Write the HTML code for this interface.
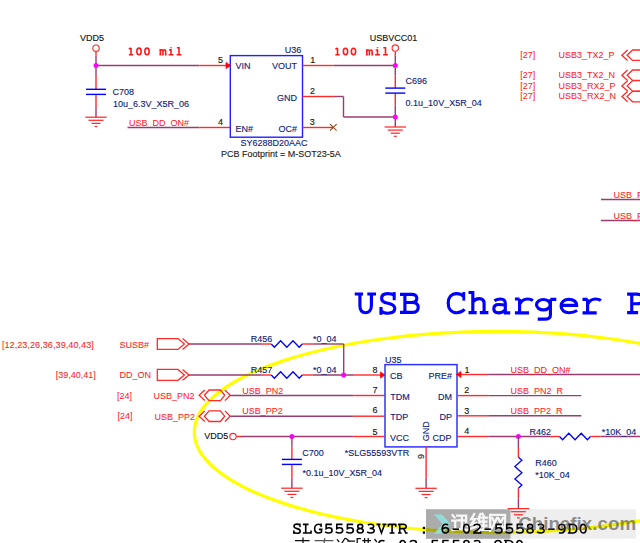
<!DOCTYPE html>
<html><head><meta charset="utf-8"><style>
html,body{margin:0;padding:0;background:#fff;overflow:hidden;}
svg{display:block;}
</style></head><body>
<svg width="640" height="543" viewBox="0 0 640 543">
<ellipse cx="496.9" cy="432" rx="302.6" ry="100.6" fill="none" stroke="#ffff00" stroke-width="3.2"/>
<rect x="426" y="509.2" width="84.5" height="29.6" fill="#000" fill-opacity="0.33"/>
<rect x="510.5" y="509.2" width="125.5" height="29.6" fill="#000" fill-opacity="0.065"/>
<polygon points="434,514.4 442,514.4 450.5,524 442,533.8 434,533.8 442.5,524" fill="#8fe0dc" fill-opacity="0.9"/>
<text x="80" y="41" fill="#101010" stroke="#101010" stroke-width="0.12" font-size="9" style="font-family:&quot;Liberation Sans&quot;, sans-serif" font-weight="normal" text-anchor="start" >VDD5</text>
<circle cx="96" cy="48.2" r="3.2" fill="#fff" stroke="#ff2a2a" stroke-width="1.1"/>
<line x1="96" y1="51.4" x2="96" y2="55.5" stroke="#ff2a2a" stroke-width="1.4"/>
<line x1="96" y1="55.5" x2="96" y2="76" stroke="#9a3d6e" stroke-width="1.4"/>
<line x1="96" y1="76" x2="96" y2="89.3" stroke="#ff2a2a" stroke-width="1.4"/>
<line x1="96" y1="94.4" x2="96" y2="107" stroke="#ff2a2a" stroke-width="1.4"/>
<line x1="96" y1="107" x2="96" y2="117.2" stroke="#9a3d6e" stroke-width="1.4"/>
<line x1="96" y1="65.5" x2="199.5" y2="65.5" stroke="#9a3d6e" stroke-width="1.4"/>
<line x1="199.5" y1="65.5" x2="230" y2="65.5" stroke="#ff2a2a" stroke-width="1.4"/>
<polygon fill="#ff0000" stroke="#ff0000" stroke-width="0.7" points="226.0,62.4 230.6,65.5 226.0,68.6"/>
<circle cx="96" cy="65.5" r="2.5" fill="#ff00ff"/>
<line x1="86" y1="89.3" x2="106" y2="89.3" stroke="#0000ff" stroke-width="1.4"/>
<line x1="86" y1="94.4" x2="106" y2="94.4" stroke="#0000ff" stroke-width="1.4"/>
<line x1="85.3" y1="117.2" x2="106.7" y2="117.2" stroke="#ff2a2a" stroke-width="1.25"/>
<line x1="88.5" y1="120.3" x2="103.5" y2="120.3" stroke="#ff2a2a" stroke-width="1.25"/>
<line x1="91.5" y1="123.4" x2="100.5" y2="123.4" stroke="#ff2a2a" stroke-width="1.25"/>
<line x1="94.6" y1="126.5" x2="97.4" y2="126.5" stroke="#ff2a2a" stroke-width="1.25"/>
<g transform="translate(0 55.3) scale(0.13330 0.13330)"><g fill="none" stroke="#ff1a1a" stroke-width="12.003"><path transform="translate(952.738 0)" d="M30,-55 L30,-4.5 M14,-4.5 L46,-4.5 M30,-55 L14,-47"/><path transform="translate(1012.753 0)" d="M30,-53.5 C41,-53.5 46,-42 46,-29 C46,-16 41,-4.5 30,-4.5 C19,-4.5 14,-16 14,-29 C14,-42 19,-53.5 30,-53.5 Z"/><path transform="translate(1072.768 0)" d="M30,-53.5 C41,-53.5 46,-42 46,-29 C46,-16 41,-4.5 30,-4.5 C19,-4.5 14,-16 14,-29 C14,-42 19,-53.5 30,-53.5 Z"/><path transform="translate(1192.798 0)" d="M3,-41 L10,-41 L10,-4.5 M3,-4.5 L17,-4.5 M10,-33 C12,-38 16,-41 20.5,-41 C26,-41 29.5,-38 29.5,-32 L29.5,-4.5 M23,-4.5 L35,-4.5 M29.5,-33 C31.5,-38 35,-41 39.5,-41 C46,-41 50,-38 50,-32 L50,-4.5 M44,-4.5 L57,-4.5"/><path transform="translate(1252.813 0)" d="M16,-41 L30,-41 L30,-4.5 M12,-4.5 L48,-4.5 M30,-61 L30,-53"/><path transform="translate(1312.828 0)" d="M14,-57 L30,-57 L30,-4.5 M12,-4.5 L48,-4.5"/></g></g>
<text x="112.5" y="95" fill="#0c1a7a" stroke="#0c1a7a" stroke-width="0.12" font-size="9" style="font-family:&quot;Liberation Sans&quot;, sans-serif" font-weight="normal" text-anchor="start" >C708</text>
<text x="113" y="107" fill="#0c1a7a" stroke="#0c1a7a" stroke-width="0.12" font-size="9" style="font-family:&quot;Liberation Sans&quot;, sans-serif" font-weight="normal" text-anchor="start" >10u_6.3V_X5R_06</text>
<line x1="127.5" y1="127.5" x2="199.5" y2="127.5" stroke="#9a3d6e" stroke-width="1.4"/>
<line x1="199.5" y1="127.5" x2="230" y2="127.5" stroke="#ff2a2a" stroke-width="1.4"/>
<text x="129" y="126" fill="#ff1a1a" stroke="#ff1a1a" stroke-width="0.05" font-size="9" style="font-family:&quot;Liberation Sans&quot;, sans-serif" font-weight="normal" text-anchor="start" >USB_DD_ON#</text>
<rect x="230.3" y="55.6" width="72.2" height="81.6" fill="none" stroke="#2020ff" stroke-width="1.4"/>
<text x="301.3" y="53.1" fill="#0c1a7a" stroke="#0c1a7a" stroke-width="0.12" font-size="9" style="font-family:&quot;Liberation Sans&quot;, sans-serif" font-weight="normal" text-anchor="end" >U36</text>
<text x="235.5" y="69.4" fill="#0c1a7a" stroke="#0c1a7a" stroke-width="0.12" font-size="9" style="font-family:&quot;Liberation Sans&quot;, sans-serif" font-weight="normal" text-anchor="start" >VIN</text>
<text x="297" y="69.4" fill="#0c1a7a" stroke="#0c1a7a" stroke-width="0.12" font-size="9" style="font-family:&quot;Liberation Sans&quot;, sans-serif" font-weight="normal" text-anchor="end" >VOUT</text>
<text x="297" y="100.5" fill="#0c1a7a" stroke="#0c1a7a" stroke-width="0.12" font-size="9" style="font-family:&quot;Liberation Sans&quot;, sans-serif" font-weight="normal" text-anchor="end" >GND</text>
<text x="235.5" y="131.7" fill="#0c1a7a" stroke="#0c1a7a" stroke-width="0.12" font-size="9" style="font-family:&quot;Liberation Sans&quot;, sans-serif" font-weight="normal" text-anchor="start" >EN#</text>
<text x="297" y="131.7" fill="#0c1a7a" stroke="#0c1a7a" stroke-width="0.12" font-size="9" style="font-family:&quot;Liberation Sans&quot;, sans-serif" font-weight="normal" text-anchor="end" >OC#</text>
<text x="218" y="63" fill="#101010" stroke="#101010" stroke-width="0.12" font-size="9" style="font-family:&quot;Liberation Sans&quot;, sans-serif" font-weight="normal" text-anchor="start" >5</text>
<text x="218" y="125" fill="#101010" stroke="#101010" stroke-width="0.12" font-size="9" style="font-family:&quot;Liberation Sans&quot;, sans-serif" font-weight="normal" text-anchor="start" >4</text>
<text x="310.3" y="63" fill="#101010" stroke="#101010" stroke-width="0.12" font-size="9" style="font-family:&quot;Liberation Sans&quot;, sans-serif" font-weight="normal" text-anchor="start" >1</text>
<text x="310" y="94" fill="#101010" stroke="#101010" stroke-width="0.12" font-size="9" style="font-family:&quot;Liberation Sans&quot;, sans-serif" font-weight="normal" text-anchor="start" >2</text>
<text x="309.7" y="124.7" fill="#101010" stroke="#101010" stroke-width="0.12" font-size="9" style="font-family:&quot;Liberation Sans&quot;, sans-serif" font-weight="normal" text-anchor="start" >3</text>
<text x="240.5" y="146" fill="#0c1a7a" stroke="#0c1a7a" stroke-width="0.12" font-size="9" style="font-family:&quot;Liberation Sans&quot;, sans-serif" font-weight="normal" text-anchor="start" >SY6288D20AAC</text>
<text x="221" y="157" fill="#202020" stroke="#202020" stroke-width="0.12" font-size="9" style="font-family:&quot;Liberation Sans&quot;, sans-serif" font-weight="normal" text-anchor="start" >PCB Footprint = M-SOT23-5A</text>
<line x1="302.5" y1="65.5" x2="333.7" y2="65.5" stroke="#ff2a2a" stroke-width="1.4"/>
<line x1="333.7" y1="65.5" x2="395.3" y2="65.5" stroke="#9a3d6e" stroke-width="1.4"/>
<line x1="302.5" y1="96.5" x2="333.7" y2="96.5" stroke="#ff2a2a" stroke-width="1.4"/>
<line x1="333.7" y1="96.5" x2="343.5" y2="96.5" stroke="#9a3d6e" stroke-width="1.4"/>
<line x1="343.5" y1="96.5" x2="343.5" y2="117" stroke="#9a3d6e" stroke-width="1.4"/>
<line x1="343.5" y1="117" x2="395.3" y2="117" stroke="#9a3d6e" stroke-width="1.4"/>
<line x1="302.5" y1="127.5" x2="333" y2="127.5" stroke="#ff2a2a" stroke-width="1.4"/>
<line x1="330" y1="124.2" x2="336.6" y2="130.7" stroke="#8a4a1a" stroke-width="1.1"/>
<line x1="336.6" y1="124.2" x2="330" y2="130.7" stroke="#8a4a1a" stroke-width="1.1"/>
<g transform="translate(0 55.4) scale(0.13330 0.13330)"><g fill="none" stroke="#ff1a1a" stroke-width="12.003"><path transform="translate(2501.875 0)" d="M30,-55 L30,-4.5 M14,-4.5 L46,-4.5 M30,-55 L14,-47"/><path transform="translate(2561.890 0)" d="M30,-53.5 C41,-53.5 46,-42 46,-29 C46,-16 41,-4.5 30,-4.5 C19,-4.5 14,-16 14,-29 C14,-42 19,-53.5 30,-53.5 Z"/><path transform="translate(2621.905 0)" d="M30,-53.5 C41,-53.5 46,-42 46,-29 C46,-16 41,-4.5 30,-4.5 C19,-4.5 14,-16 14,-29 C14,-42 19,-53.5 30,-53.5 Z"/><path transform="translate(2741.935 0)" d="M3,-41 L10,-41 L10,-4.5 M3,-4.5 L17,-4.5 M10,-33 C12,-38 16,-41 20.5,-41 C26,-41 29.5,-38 29.5,-32 L29.5,-4.5 M23,-4.5 L35,-4.5 M29.5,-33 C31.5,-38 35,-41 39.5,-41 C46,-41 50,-38 50,-32 L50,-4.5 M44,-4.5 L57,-4.5"/><path transform="translate(2801.950 0)" d="M16,-41 L30,-41 L30,-4.5 M12,-4.5 L48,-4.5 M30,-61 L30,-53"/><path transform="translate(2861.965 0)" d="M14,-57 L30,-57 L30,-4.5 M12,-4.5 L48,-4.5"/></g></g>
<text x="369.7" y="40.6" fill="#101010" stroke="#101010" stroke-width="0.12" font-size="9" style="font-family:&quot;Liberation Sans&quot;, sans-serif" font-weight="normal" text-anchor="start" >USBVCC01</text>
<circle cx="395.3" cy="48.1" r="3.2" fill="#fff" stroke="#ff2a2a" stroke-width="1.1"/>
<line x1="395.3" y1="51.4" x2="395.3" y2="55.6" stroke="#ff2a2a" stroke-width="1.4"/>
<line x1="395.3" y1="55.6" x2="395.3" y2="75.6" stroke="#9a3d6e" stroke-width="1.4"/>
<line x1="395.3" y1="75.6" x2="395.3" y2="88.1" stroke="#ff2a2a" stroke-width="1.4"/>
<line x1="395.3" y1="93" x2="395.3" y2="105.5" stroke="#ff2a2a" stroke-width="1.4"/>
<line x1="395.3" y1="105.5" x2="395.3" y2="127" stroke="#9a3d6e" stroke-width="1.4"/>
<circle cx="395.3" cy="65.5" r="2.5" fill="#ff00ff"/>
<circle cx="395.3" cy="117" r="2.5" fill="#ff00ff"/>
<line x1="385.3" y1="88.1" x2="405.3" y2="88.1" stroke="#0000ff" stroke-width="1.4"/>
<line x1="385.3" y1="93.1" x2="405.3" y2="93.1" stroke="#0000ff" stroke-width="1.4"/>
<line x1="384.6" y1="127" x2="406.0" y2="127" stroke="#ff2a2a" stroke-width="1.25"/>
<line x1="387.8" y1="130.1" x2="402.8" y2="130.1" stroke="#ff2a2a" stroke-width="1.25"/>
<line x1="390.8" y1="133.2" x2="399.8" y2="133.2" stroke="#ff2a2a" stroke-width="1.25"/>
<line x1="393.90000000000003" y1="136.3" x2="396.7" y2="136.3" stroke="#ff2a2a" stroke-width="1.25"/>
<text x="405.5" y="83.8" fill="#0c1a7a" stroke="#0c1a7a" stroke-width="0.12" font-size="9" style="font-family:&quot;Liberation Sans&quot;, sans-serif" font-weight="normal" text-anchor="start" >C696</text>
<text x="405.6" y="105.8" fill="#0c1a7a" stroke="#0c1a7a" stroke-width="0.12" font-size="9" style="font-family:&quot;Liberation Sans&quot;, sans-serif" font-weight="normal" text-anchor="start" >0.1u_10V_X5R_04</text>
<text x="520.3" y="58.1" fill="#ff1a1a" stroke="#ff1a1a" stroke-width="0.05" font-size="9" style="font-family:&quot;Liberation Sans&quot;, sans-serif" font-weight="normal" text-anchor="start" >[27]</text>
<text x="558.6" y="58.1" fill="#ff1a1a" stroke="#ff1a1a" stroke-width="0.05" font-size="9" style="font-family:&quot;Liberation Sans&quot;, sans-serif" font-weight="normal" text-anchor="start" >USB3_TX2_P</text>
<text x="520.3" y="78.1" fill="#ff1a1a" stroke="#ff1a1a" stroke-width="0.05" font-size="9" style="font-family:&quot;Liberation Sans&quot;, sans-serif" font-weight="normal" text-anchor="start" >[27]</text>
<text x="558.6" y="78.1" fill="#ff1a1a" stroke="#ff1a1a" stroke-width="0.05" font-size="9" style="font-family:&quot;Liberation Sans&quot;, sans-serif" font-weight="normal" text-anchor="start" >USB3_TX2_N</text>
<text x="520.3" y="88.6" fill="#ff1a1a" stroke="#ff1a1a" stroke-width="0.05" font-size="9" style="font-family:&quot;Liberation Sans&quot;, sans-serif" font-weight="normal" text-anchor="start" >[27]</text>
<text x="558.6" y="88.6" fill="#ff1a1a" stroke="#ff1a1a" stroke-width="0.05" font-size="9" style="font-family:&quot;Liberation Sans&quot;, sans-serif" font-weight="normal" text-anchor="start" >USB3_RX2_P</text>
<text x="520.3" y="98.9" fill="#ff1a1a" stroke="#ff1a1a" stroke-width="0.05" font-size="9" style="font-family:&quot;Liberation Sans&quot;, sans-serif" font-weight="normal" text-anchor="start" >[27]</text>
<text x="558.6" y="98.9" fill="#ff1a1a" stroke="#ff1a1a" stroke-width="0.05" font-size="9" style="font-family:&quot;Liberation Sans&quot;, sans-serif" font-weight="normal" text-anchor="start" >USB3_RX2_N</text>
<polyline fill="none" stroke="#ff2a2a" stroke-width="1.3" points="627.6,50.0 621.9,55.2 627.6,60.400000000000006"/>
<polyline fill="none" stroke="#ff2a2a" stroke-width="1.3" points="645,50.0 632.6,50.0 627.1,55.2 632.6,60.400000000000006 645,60.400000000000006"/>
<polyline fill="none" stroke="#ff2a2a" stroke-width="1.3" points="627.6,70.0 621.9,75.2 627.6,80.4"/>
<polyline fill="none" stroke="#ff2a2a" stroke-width="1.3" points="645,70.0 632.6,70.0 627.1,75.2 632.6,80.4 645,80.4"/>
<polyline fill="none" stroke="#ff2a2a" stroke-width="1.3" points="627.6,80.7 621.9,85.9 627.6,91.10000000000001"/>
<polyline fill="none" stroke="#ff2a2a" stroke-width="1.3" points="645,80.7 632.6,80.7 627.1,85.9 632.6,91.10000000000001 645,91.10000000000001"/>
<polyline fill="none" stroke="#ff2a2a" stroke-width="1.3" points="627.6,91.39999999999999 621.9,96.6 627.6,101.8"/>
<polyline fill="none" stroke="#ff2a2a" stroke-width="1.3" points="645,91.39999999999999 632.6,91.39999999999999 627.1,96.6 632.6,101.8 645,101.8"/>
<line x1="601" y1="199.5" x2="641" y2="199.5" stroke="#9a3d6e" stroke-width="1.4"/>
<line x1="601" y1="220.5" x2="641" y2="220.5" stroke="#9a3d6e" stroke-width="1.4"/>
<text x="613.5" y="197.8" fill="#ff1a1a" stroke="#ff1a1a" stroke-width="0.05" font-size="9" style="font-family:&quot;Liberation Sans&quot;, sans-serif" font-weight="normal" text-anchor="start" >USB_PN</text>
<text x="613.5" y="218.8" fill="#ff1a1a" stroke="#ff1a1a" stroke-width="0.05" font-size="9" style="font-family:&quot;Liberation Sans&quot;, sans-serif" font-weight="normal" text-anchor="start" >USB_PP</text>
<path d="M354.7,293.95 L363,293.95 M367.3,293.95 L376,293.95 M359.9,293.9 L359.9,305.5 C359.9,310.5 362.5,312.7 365.6,312.7 C368.7,312.7 371.4,310.5 371.4,305.5 L371.4,293.9 M394.2,295.2 C392.3,294 390,293.6 387.8,293.6 C383.6,293.6 381.6,295.8 381.6,298.4 C381.6,301.4 384.4,302.5 388,303.3 C392.6,304.3 394.8,305.7 394.8,308.6 C394.8,311.6 392,313.2 388,313.2 C385,313.2 382.8,312.5 381,310.8 M400,294.3 L411.5,294.3 C415,294.3 416.8,296 416.8,298.3 C416.8,300.8 414.8,302.5 411.5,302.5 L404.9,302.5 M404.9,294.3 L404.9,312.4 M404.9,302.5 L412,302.5 C416,302.5 418.2,304.5 418.2,307.4 C418.2,310.4 416,312.4 412,312.4 L400,312.4 M463.8,296.6 C462,294.3 459.2,293.6 456.6,293.6 C451.2,293.6 448.2,297.8 448.2,303.2 C448.2,309 451.6,312.7 456.8,312.7 C460,312.7 462.5,311.6 464.6,309.3 M468.5,292.45 L472.8,292.45 M472.8,291 L472.8,312.6 M472.8,302.2 C474.5,299.6 476.8,298.65 479.3,298.65 C482.5,298.65 484.1,300.6 484.1,303.6 L484.1,312.6 M468.5,312.6 L476.7,312.6 M479.8,312.6 L488.4,312.6 M494.4,300.8 C496.4,299.4 498.6,298.95 500.6,298.95 C503.6,298.95 505.3,300.5 505.3,303.4 L505.3,312.8 L510.2,312.8 M505.3,305.3 C503,304.7 500.6,304.5 498.6,304.5 C495.5,304.5 493.8,306.3 493.8,308.7 C493.8,311.2 495.6,312.8 498.6,312.8 C501.5,312.8 503.6,311.6 505.3,309.7 M514.9,298.95 L519.6,298.95 M519.6,298.95 L519.6,312.8 M514.9,312.85 L529,312.85 M519.6,304.2 C521.5,300.6 524.5,298.95 527.5,298.95 C529.6,298.95 531.5,299.5 532.9,300.6 M550.4,299.3 L556.3,299.3 M550.4,299.3 L550.4,315.2 C550.4,318.1 548,319.1 544.6,319.1 L537.7,319.1 M561.1,305.4 L576.6,305.4 C576.6,301.2 573.2,299.3 568.9,299.3 C564.3,299.3 561.1,302.1 561.1,306.1 C561.1,310.3 564.5,312.7 569.1,312.7 C572.1,312.7 574.6,312 577.1,310.5 M582.5,299.35 L587.6,299.35 M587.6,299.35 L587.6,312.8 M582.5,312.85 L596.7,312.85 M587.6,304.2 C589.5,300.6 592.5,298.95 595.5,298.95 C597.6,298.95 599.5,299.5 600.9,300.6 M627.1,294.15 L637,294.15 C641,294.15 643.5,296.5 643.5,299 C643.5,301.5 641,303.7 637,303.7 L631.75,303.7 M631.75,294.15 L631.75,312.6 M627.1,312.6 L638.1,312.6" fill="none" stroke="#0000ff" stroke-width="3.15"/>
<ellipse cx="543.4" cy="304.7" rx="6.9" ry="5.2" fill="none" stroke="#0000ff" stroke-width="3.15"/>
<rect x="392.7" y="292.1" width="3.0" height="8.1" fill="#0000ff"/>
<rect x="379.4" y="307" width="3.2" height="7.8" fill="#0000ff"/>
<rect x="462.4" y="292" width="2.8" height="8.6" fill="#0000ff"/>
<text x="1.9" y="347.6" fill="#ff1a1a" stroke="#ff1a1a" stroke-width="0.05" font-size="9.2" style="font-family:&quot;Liberation Sans&quot;, sans-serif" font-weight="normal" text-anchor="start" >[12,23,26,36,39,40,43]</text>
<text x="119.5" y="347.5" fill="#ff1a1a" stroke="#ff1a1a" stroke-width="0.05" font-size="9" style="font-family:&quot;Liberation Sans&quot;, sans-serif" font-weight="normal" text-anchor="start" >SUSB#</text>
<text x="55.8" y="378.2" fill="#ff1a1a" stroke="#ff1a1a" stroke-width="0.05" font-size="9" style="font-family:&quot;Liberation Sans&quot;, sans-serif" font-weight="normal" text-anchor="start" >[39,40,41]</text>
<text x="119.5" y="378.4" fill="#ff1a1a" stroke="#ff1a1a" stroke-width="0.05" font-size="9" style="font-family:&quot;Liberation Sans&quot;, sans-serif" font-weight="normal" text-anchor="start" >DD_ON</text>
<polygon fill="none" stroke="#ff2a2a" stroke-width="1.3" points="157.3,338.55 178,338.55 184.4,344 178,349.45 157.3,349.45"/>
<polyline fill="none" stroke="#ff2a2a" stroke-width="1.3" points="182.6,338.55 189,344 182.6,349.45"/>
<polygon fill="none" stroke="#ff2a2a" stroke-width="1.3" points="157.3,369.45 178,369.45 184.4,374.9 178,380.34999999999997 157.3,380.34999999999997"/>
<polyline fill="none" stroke="#ff2a2a" stroke-width="1.3" points="182.6,369.45 189,374.9 182.6,380.34999999999997"/>
<line x1="189" y1="344" x2="261" y2="344" stroke="#9a3d6e" stroke-width="1.4"/>
<line x1="261" y1="344" x2="271.3" y2="344" stroke="#ff2a2a" stroke-width="1.4"/>
<line x1="302.2" y1="344" x2="312.7" y2="344" stroke="#ff2a2a" stroke-width="1.4"/>
<line x1="312.7" y1="344" x2="343.7" y2="344" stroke="#9a3d6e" stroke-width="1.4"/>
<polyline fill="none" stroke="#0000ff" stroke-width="1.3" points="271.30,344.00 274.40,347.20 280.60,340.80 286.80,347.20 293.00,340.80 299.20,347.20 302.30,344.00"/>
<text x="250.8" y="342" fill="#0c1a7a" stroke="#0c1a7a" stroke-width="0.12" font-size="9" style="font-family:&quot;Liberation Sans&quot;, sans-serif" font-weight="normal" text-anchor="start" >R456</text>
<text x="313" y="341.5" fill="#0c1a7a" stroke="#0c1a7a" stroke-width="0.12" font-size="9" style="font-family:&quot;Liberation Sans&quot;, sans-serif" font-weight="normal" text-anchor="start" >*0_04</text>
<line x1="343.7" y1="344" x2="343.7" y2="375" stroke="#9a3d6e" stroke-width="1.4"/>
<line x1="189" y1="375" x2="261" y2="375" stroke="#9a3d6e" stroke-width="1.4"/>
<line x1="261" y1="375" x2="271.3" y2="375" stroke="#ff2a2a" stroke-width="1.4"/>
<line x1="302.2" y1="375" x2="312.7" y2="375" stroke="#ff2a2a" stroke-width="1.4"/>
<line x1="312.7" y1="375" x2="353.7" y2="375" stroke="#9a3d6e" stroke-width="1.4"/>
<line x1="353.7" y1="375" x2="384.5" y2="375" stroke="#ff2a2a" stroke-width="1.4"/>
<polyline fill="none" stroke="#0000ff" stroke-width="1.3" points="271.30,375.00 274.40,378.20 280.60,371.80 286.80,378.20 293.00,371.80 299.20,378.20 302.30,375.00"/>
<polygon fill="#ff0000" stroke="#ff0000" stroke-width="0.7" points="380.5,371.9 385.1,375 380.5,378.1"/>
<text x="250.8" y="373" fill="#0c1a7a" stroke="#0c1a7a" stroke-width="0.12" font-size="9" style="font-family:&quot;Liberation Sans&quot;, sans-serif" font-weight="normal" text-anchor="start" >R457</text>
<text x="313" y="373" fill="#0c1a7a" stroke="#0c1a7a" stroke-width="0.12" font-size="9" style="font-family:&quot;Liberation Sans&quot;, sans-serif" font-weight="normal" text-anchor="start" >*0_04</text>
<circle cx="343.7" cy="375" r="2.5" fill="#ff00ff"/>
<text x="117" y="398.9" fill="#ff1a1a" stroke="#ff1a1a" stroke-width="0.05" font-size="9" style="font-family:&quot;Liberation Sans&quot;, sans-serif" font-weight="normal" text-anchor="start" >[24]</text>
<text x="153.6" y="399.2" fill="#ff1a1a" stroke="#ff1a1a" stroke-width="0.05" font-size="9" style="font-family:&quot;Liberation Sans&quot;, sans-serif" font-weight="normal" text-anchor="start" >USB_PN2</text>
<polyline fill="none" stroke="#ff2a2a" stroke-width="1.3" points="204.8,390.0 199.1,395.3 204.8,400.6"/>
<polygon fill="none" stroke="#ff2a2a" stroke-width="1.3" points="204.4,395.3 209.1,390.0 220.4,390.0 224.7,395.3 220.4,400.6 209.1,400.6"/>
<polyline fill="none" stroke="#ff2a2a" stroke-width="1.3" points="224.9,390.0 230.2,395.3 224.9,400.6"/>
<text x="117.5" y="419.4" fill="#ff1a1a" stroke="#ff1a1a" stroke-width="0.05" font-size="9" style="font-family:&quot;Liberation Sans&quot;, sans-serif" font-weight="normal" text-anchor="start" >[24]</text>
<text x="154.6" y="419.8" fill="#ff1a1a" stroke="#ff1a1a" stroke-width="0.05" font-size="9" style="font-family:&quot;Liberation Sans&quot;, sans-serif" font-weight="normal" text-anchor="start" >USB_PP2</text>
<polyline fill="none" stroke="#ff2a2a" stroke-width="1.3" points="204.8,410.9 199.1,416.2 204.8,421.5"/>
<polygon fill="none" stroke="#ff2a2a" stroke-width="1.3" points="204.4,416.2 209.1,410.9 220.4,410.9 224.7,416.2 220.4,421.5 209.1,421.5"/>
<polyline fill="none" stroke="#ff2a2a" stroke-width="1.3" points="224.9,410.9 230.2,416.2 224.9,421.5"/>
<line x1="230.2" y1="395.5" x2="353.7" y2="395.5" stroke="#9a3d6e" stroke-width="1.4"/>
<line x1="353.7" y1="395.5" x2="384.5" y2="395.5" stroke="#ff2a2a" stroke-width="1.4"/>
<text x="242.3" y="394.2" fill="#ff1a1a" stroke="#ff1a1a" stroke-width="0.05" font-size="9" style="font-family:&quot;Liberation Sans&quot;, sans-serif" font-weight="normal" text-anchor="start" >USB_PN2</text>
<line x1="230.2" y1="416.2" x2="353.7" y2="416.2" stroke="#9a3d6e" stroke-width="1.4"/>
<line x1="353.7" y1="416.2" x2="384.5" y2="416.2" stroke="#ff2a2a" stroke-width="1.4"/>
<text x="242.3" y="414.3" fill="#ff1a1a" stroke="#ff1a1a" stroke-width="0.05" font-size="9" style="font-family:&quot;Liberation Sans&quot;, sans-serif" font-weight="normal" text-anchor="start" >USB_PP2</text>
<text x="204.2" y="439" fill="#101010" stroke="#101010" stroke-width="0.12" font-size="9" style="font-family:&quot;Liberation Sans&quot;, sans-serif" font-weight="normal" text-anchor="start" >VDD5</text>
<circle cx="233" cy="436.6" r="3.2" fill="#fff" stroke="#ff2a2a" stroke-width="1.1"/>
<line x1="236.3" y1="436.5" x2="241" y2="436.5" stroke="#ff2a2a" stroke-width="1.4"/>
<line x1="241" y1="436.5" x2="353.7" y2="436.5" stroke="#9a3d6e" stroke-width="1.4"/>
<line x1="353.7" y1="436.5" x2="384.5" y2="436.5" stroke="#ff2a2a" stroke-width="1.4"/>
<circle cx="291.9" cy="436.5" r="2.5" fill="#ff00ff"/>
<line x1="291.9" y1="436.5" x2="291.9" y2="446.7" stroke="#9a3d6e" stroke-width="1.4"/>
<line x1="291.9" y1="446.7" x2="291.9" y2="459.4" stroke="#ff2a2a" stroke-width="1.4"/>
<line x1="291.9" y1="464.4" x2="291.9" y2="477.7" stroke="#ff2a2a" stroke-width="1.4"/>
<line x1="291.9" y1="477.7" x2="291.9" y2="488.2" stroke="#9a3d6e" stroke-width="1.4"/>
<line x1="281.9" y1="459.4" x2="301.9" y2="459.4" stroke="#0000ff" stroke-width="1.4"/>
<line x1="281.9" y1="464.4" x2="301.9" y2="464.4" stroke="#0000ff" stroke-width="1.4"/>
<line x1="281.2" y1="488.2" x2="302.59999999999997" y2="488.2" stroke="#ff2a2a" stroke-width="1.25"/>
<line x1="284.4" y1="491.3" x2="299.4" y2="491.3" stroke="#ff2a2a" stroke-width="1.25"/>
<line x1="287.4" y1="494.4" x2="296.4" y2="494.4" stroke="#ff2a2a" stroke-width="1.25"/>
<line x1="290.5" y1="497.5" x2="293.29999999999995" y2="497.5" stroke="#ff2a2a" stroke-width="1.25"/>
<text x="302.3" y="455.8" fill="#0c1a7a" stroke="#0c1a7a" stroke-width="0.12" font-size="9" style="font-family:&quot;Liberation Sans&quot;, sans-serif" font-weight="normal" text-anchor="start" >C700</text>
<text x="302.5" y="475.8" fill="#0c1a7a" stroke="#0c1a7a" stroke-width="0.12" font-size="9" style="font-family:&quot;Liberation Sans&quot;, sans-serif" font-weight="normal" text-anchor="start" >*0.1u_10V_X5R_04</text>
<rect x="385" y="364.6" width="72" height="82.3" fill="none" stroke="#3030ff" stroke-width="1.5"/>
<text x="385" y="362.9" fill="#0c1a7a" stroke="#0c1a7a" stroke-width="0.12" font-size="9" style="font-family:&quot;Liberation Sans&quot;, sans-serif" font-weight="normal" text-anchor="start" >U35</text>
<text x="390" y="379" fill="#0c1a7a" stroke="#0c1a7a" stroke-width="0.12" font-size="9" style="font-family:&quot;Liberation Sans&quot;, sans-serif" font-weight="normal" text-anchor="start" >CB</text>
<text x="390.2" y="399.8" fill="#0c1a7a" stroke="#0c1a7a" stroke-width="0.12" font-size="9" style="font-family:&quot;Liberation Sans&quot;, sans-serif" font-weight="normal" text-anchor="start" >TDM</text>
<text x="390.2" y="420.2" fill="#0c1a7a" stroke="#0c1a7a" stroke-width="0.12" font-size="9" style="font-family:&quot;Liberation Sans&quot;, sans-serif" font-weight="normal" text-anchor="start" >TDP</text>
<text x="390" y="441" fill="#0c1a7a" stroke="#0c1a7a" stroke-width="0.12" font-size="9" style="font-family:&quot;Liberation Sans&quot;, sans-serif" font-weight="normal" text-anchor="start" >VCC</text>
<text x="452" y="379" fill="#0c1a7a" stroke="#0c1a7a" stroke-width="0.12" font-size="9" style="font-family:&quot;Liberation Sans&quot;, sans-serif" font-weight="normal" text-anchor="end" >PRE#</text>
<text x="452" y="399.8" fill="#0c1a7a" stroke="#0c1a7a" stroke-width="0.12" font-size="9" style="font-family:&quot;Liberation Sans&quot;, sans-serif" font-weight="normal" text-anchor="end" >DM</text>
<text x="452" y="420.2" fill="#0c1a7a" stroke="#0c1a7a" stroke-width="0.12" font-size="9" style="font-family:&quot;Liberation Sans&quot;, sans-serif" font-weight="normal" text-anchor="end" >DP</text>
<text x="451.6" y="441" fill="#0c1a7a" stroke="#0c1a7a" stroke-width="0.12" font-size="9" style="font-family:&quot;Liberation Sans&quot;, sans-serif" font-weight="normal" text-anchor="end" >CDP</text>
<text x="429.5" y="441.2" fill="#0c1a7a" stroke="#0c1a7a" stroke-width="0.12" font-size="9" style="font-family:&quot;Liberation Sans&quot;, sans-serif" font-weight="normal" text-anchor="start" transform="rotate(-90 429.5 441.2)">GND</text>
<text x="372.4" y="372.9" fill="#101010" stroke="#101010" stroke-width="0.12" font-size="9" style="font-family:&quot;Liberation Sans&quot;, sans-serif" font-weight="normal" text-anchor="start" >8</text>
<text x="372.6" y="392.6" fill="#101010" stroke="#101010" stroke-width="0.12" font-size="9" style="font-family:&quot;Liberation Sans&quot;, sans-serif" font-weight="normal" text-anchor="start" >7</text>
<text x="372.6" y="413" fill="#101010" stroke="#101010" stroke-width="0.12" font-size="9" style="font-family:&quot;Liberation Sans&quot;, sans-serif" font-weight="normal" text-anchor="start" >6</text>
<text x="372.6" y="434.8" fill="#101010" stroke="#101010" stroke-width="0.12" font-size="9" style="font-family:&quot;Liberation Sans&quot;, sans-serif" font-weight="normal" text-anchor="start" >5</text>
<text x="464.5" y="372.9" fill="#101010" stroke="#101010" stroke-width="0.12" font-size="9" style="font-family:&quot;Liberation Sans&quot;, sans-serif" font-weight="normal" text-anchor="start" >1</text>
<text x="464.3" y="392.6" fill="#101010" stroke="#101010" stroke-width="0.12" font-size="9" style="font-family:&quot;Liberation Sans&quot;, sans-serif" font-weight="normal" text-anchor="start" >2</text>
<text x="464.3" y="413.7" fill="#101010" stroke="#101010" stroke-width="0.12" font-size="9" style="font-family:&quot;Liberation Sans&quot;, sans-serif" font-weight="normal" text-anchor="start" >3</text>
<text x="464.3" y="434.4" fill="#101010" stroke="#101010" stroke-width="0.12" font-size="9" style="font-family:&quot;Liberation Sans&quot;, sans-serif" font-weight="normal" text-anchor="start" >4</text>
<text x="409.3" y="455.6" fill="#0c1a7a" stroke="#0c1a7a" stroke-width="0.12" font-size="9" style="font-family:&quot;Liberation Sans&quot;, sans-serif" font-weight="normal" text-anchor="end" >*SLG55593VTR</text>
<text x="424.3" y="459" fill="#101010" stroke="#101010" stroke-width="0.12" font-size="9" style="font-family:&quot;Liberation Sans&quot;, sans-serif" font-weight="normal" text-anchor="start" transform="rotate(-90 424.3 459)">9</text>
<line x1="426.1" y1="446.6" x2="426.1" y2="477.8" stroke="#ff2a2a" stroke-width="1.4"/>
<line x1="426.1" y1="477.8" x2="426.1" y2="488.3" stroke="#9a3d6e" stroke-width="1.4"/>
<line x1="415.40000000000003" y1="488.3" x2="436.8" y2="488.3" stroke="#ff2a2a" stroke-width="1.25"/>
<line x1="418.6" y1="491.40000000000003" x2="433.6" y2="491.40000000000003" stroke="#ff2a2a" stroke-width="1.25"/>
<line x1="421.6" y1="494.5" x2="430.6" y2="494.5" stroke="#ff2a2a" stroke-width="1.25"/>
<line x1="424.70000000000005" y1="497.6" x2="427.5" y2="497.6" stroke="#ff2a2a" stroke-width="1.25"/>
<line x1="457" y1="374.5" x2="488.2" y2="374.5" stroke="#ff2a2a" stroke-width="1.4"/>
<line x1="488.2" y1="374.5" x2="641" y2="374.5" stroke="#9a3d6e" stroke-width="1.4"/>
<polygon fill="#ff0000" stroke="#ff0000" stroke-width="0.7" points="461.0,371.4 456.4,374.5 461.0,377.6"/>
<text x="510.6" y="372.5" fill="#ff1a1a" stroke="#ff1a1a" stroke-width="0.05" font-size="9" style="font-family:&quot;Liberation Sans&quot;, sans-serif" font-weight="normal" text-anchor="start" >USB_DD_ON#</text>
<line x1="457" y1="395.6" x2="488.2" y2="395.6" stroke="#ff2a2a" stroke-width="1.4"/>
<line x1="488.2" y1="395.6" x2="581.3" y2="395.6" stroke="#9a3d6e" stroke-width="1.4"/>
<text x="510.6" y="393.6" fill="#ff1a1a" stroke="#ff1a1a" stroke-width="0.05" font-size="9" style="font-family:&quot;Liberation Sans&quot;, sans-serif" font-weight="normal" text-anchor="start" >USB_PN2_R</text>
<line x1="457" y1="415.8" x2="488.2" y2="415.8" stroke="#ff2a2a" stroke-width="1.4"/>
<line x1="488.2" y1="415.8" x2="581.3" y2="415.8" stroke="#9a3d6e" stroke-width="1.4"/>
<text x="510.6" y="414.4" fill="#ff1a1a" stroke="#ff1a1a" stroke-width="0.05" font-size="9" style="font-family:&quot;Liberation Sans&quot;, sans-serif" font-weight="normal" text-anchor="start" >USB_PP2_R</text>
<line x1="457" y1="436.5" x2="488.2" y2="436.5" stroke="#ff2a2a" stroke-width="1.4"/>
<line x1="488.2" y1="436.5" x2="550" y2="436.5" stroke="#9a3d6e" stroke-width="1.4"/>
<line x1="550" y1="436.5" x2="559.5" y2="436.5" stroke="#ff2a2a" stroke-width="1.4"/>
<line x1="590.5" y1="436.5" x2="600.6" y2="436.5" stroke="#ff2a2a" stroke-width="1.4"/>
<line x1="600.6" y1="436.5" x2="641" y2="436.5" stroke="#9a3d6e" stroke-width="1.4"/>
<polyline fill="none" stroke="#0000ff" stroke-width="1.3" points="559.50,436.50 562.60,439.70 568.80,433.30 575.00,439.70 581.20,433.30 587.40,439.70 590.50,436.50"/>
<circle cx="518.4" cy="436.5" r="2.5" fill="#ff00ff"/>
<text x="529.4" y="434.6" fill="#0c1a7a" stroke="#0c1a7a" stroke-width="0.12" font-size="9" style="font-family:&quot;Liberation Sans&quot;, sans-serif" font-weight="normal" text-anchor="start" >R462</text>
<text x="601.8" y="434.6" fill="#0c1a7a" stroke="#0c1a7a" stroke-width="0.12" font-size="9" style="font-family:&quot;Liberation Sans&quot;, sans-serif" font-weight="normal" text-anchor="start" >*10K_04</text>
<line x1="518.4" y1="436.5" x2="518.4" y2="447" stroke="#9a3d6e" stroke-width="1.4"/>
<line x1="518.4" y1="447" x2="518.4" y2="457" stroke="#ff2a2a" stroke-width="1.4"/>
<line x1="518.4" y1="488.2" x2="518.4" y2="498.5" stroke="#ff2a2a" stroke-width="1.4"/>
<line x1="518.4" y1="498.5" x2="518.4" y2="508.6" stroke="#9a3d6e" stroke-width="1.4"/>
<polyline fill="none" stroke="#0000ff" stroke-width="1.3" points="518.40,457.20 521.90,460.30 514.90,466.50 521.90,472.70 514.90,478.90 521.90,485.10 518.40,488.20"/>
<line x1="507.7" y1="508.6" x2="529.1" y2="508.6" stroke="#ff2a2a" stroke-width="1.25"/>
<line x1="510.9" y1="511.70000000000005" x2="525.9" y2="511.70000000000005" stroke="#ff2a2a" stroke-width="1.25"/>
<line x1="513.9" y1="514.8000000000001" x2="522.9" y2="514.8000000000001" stroke="#ff2a2a" stroke-width="1.25"/>
<line x1="517.0" y1="517.9" x2="519.8" y2="517.9" stroke="#ff2a2a" stroke-width="1.25"/>
<text x="535.2" y="465.8" fill="#0c1a7a" stroke="#0c1a7a" stroke-width="0.12" font-size="9" style="font-family:&quot;Liberation Sans&quot;, sans-serif" font-weight="normal" text-anchor="start" >R460</text>
<text x="535.2" y="478" fill="#0c1a7a" stroke="#0c1a7a" stroke-width="0.12" font-size="9" style="font-family:&quot;Liberation Sans&quot;, sans-serif" font-weight="normal" text-anchor="start" >*10K_04</text>
<path d="M452.6,515.2 L454.6,517.4 M452.2,520.6 L455.2,520.6 L455.2,527.6 M452.4,530.2 Q457,528.2 469,530.2 M457.2,515.6 L466.2,515.6 L466.2,523 Q466.4,526.4 468.8,526.4 M461.8,515.6 L461.8,527.4 M457.6,520.4 L464.4,520.4 M474.2,514 L471.2,519.2 L475,519.2 L471.4,524.4 L476.2,523.2 M471,528.6 L476.4,526.6 M480.4,514 L478.2,519 M479.2,518 L479.2,530.6 M482.4,513.6 L483.8,516 M480,517.6 L487.2,517.6 M483.6,517.6 L483.6,529.6 M480,521.6 L486.4,521.6 M480,525.6 L486.4,525.6 M479.2,529.8 L487.8,529.8 M490.2,530.8 L490.2,514.8 L505,514.8 L505,529 Q505,530.6 502.8,530.6 M492.4,518 L497,527.4 M497,518 L492.2,527.8 M498.2,518 L503,527.4 M503,518 L498,527.8" fill="none" stroke="#f6f6f6" stroke-width="2.3" stroke-linecap="square"/>
<g transform="translate(0 533.8) scale(0.17700 0.17700)"><g fill="none" stroke="#000" stroke-width="9.040"><path transform="translate(1645.198 0)" d="M49.3,-50.7 C44.2,-53.8 38.1,-54.9 32.3,-54.9 C21.2,-54.9 15.9,-49.1 15.9,-42.2 C15.9,-34.2 23.3,-31.3 32.8,-29.2 C45,-26.5 50.9,-22.8 50.9,-15.1 C50.9,-7.2 43.4,-2.9 32.8,-2.9 C24.9,-2.9 19,-4.8 14.3,-9.3"/><path transform="translate(1705.198 0)" d="M6,-53.5 L38,-53.5 M22,-53.5 L22,-4.5 M6,-4.5 L52,-4.5 L52,-19"/><path transform="translate(1765.198 0)" d="M49,-47 C46,-51.5 40,-54 34.5,-54 C21,-54 12.5,-43 12.5,-29 C12.5,-14 21,-4.5 34,-4.5 C41,-4.5 47,-6 51,-9 L51,-25 M36,-25 L57,-25"/><path transform="translate(1825.198 0)" d="M14,-53.5 L50,-53.5 M17.5,-53.5 L17.5,-29 C22,-32.5 28,-34 34,-34 C45,-34 51,-27 51,-19 C51,-9.5 44,-4.5 33,-4.5 C25,-4.5 18,-6.5 11,-11"/><path transform="translate(1885.198 0)" d="M14,-53.5 L50,-53.5 M17.5,-53.5 L17.5,-29 C22,-32.5 28,-34 34,-34 C45,-34 51,-27 51,-19 C51,-9.5 44,-4.5 33,-4.5 C25,-4.5 18,-6.5 11,-11"/><path transform="translate(1945.198 0)" d="M14,-53.5 L50,-53.5 M17.5,-53.5 L17.5,-29 C22,-32.5 28,-34 34,-34 C45,-34 51,-27 51,-19 C51,-9.5 44,-4.5 33,-4.5 C25,-4.5 18,-6.5 11,-11"/><path transform="translate(2005.198 0)" d="M30,-53.5 C39,-53.5 44,-48.5 44,-42 C44,-35 38,-30 30,-30 C22,-30 16,-35 16,-42 C16,-48.5 21,-53.5 30,-53.5 Z M30,-30 C41,-30 47,-24 47,-17 C47,-9.5 40,-4.5 30,-4.5 C20,-4.5 13,-9.5 13,-17 C13,-24 19,-30 30,-30 Z"/><path transform="translate(2065.198 0)" d="M13,-49 C17,-52.5 23,-54 30,-54 C40,-54 46,-49 46,-42.5 C46,-35 40,-30.5 30,-30.5 L23,-30.5 M30,-30.5 C42,-30.5 49,-24.5 49,-17 C49,-9 42,-4.5 30,-4.5 C22,-4.5 15,-6.5 9,-10.5"/><path transform="translate(2125.198 0)" d="M2,-53.5 L24,-53.5 M36,-53.5 L58,-53.5 M12,-53.5 L30,-4.5 L48,-53.5"/><path transform="translate(2185.198 0)" d="M9,-53.5 L51,-53.5 M9,-57 L9,-40 M51,-57 L51,-40 M30,-53.5 L30,-4.5 M16,-4.5 L44,-4.5"/><path transform="translate(2245.198 0)" d="M3,-53.5 L35,-53.5 C45,-53.5 50,-47.5 50,-41 C50,-34 45,-29 35,-29 L13,-29 M13,-53.5 L13,-4.5 M3,-4.5 L24,-4.5 M33,-29 C39,-26 43,-19 47,-4.5 L58,-4.5"/><path transform="translate(2485.198 0)" d="M47,-51 C43,-53.5 38,-54 34,-54 C20,-54 13,-41 13,-27 C13,-12 20,-4.5 31,-4.5 C42,-4.5 49,-11 49,-20 C49,-29 42,-35 32,-35 C23,-35 16,-30 13,-23"/><path transform="translate(2545.198 0)" d="M12,-26 L48,-26"/><path transform="translate(2605.198 0)" d="M30,-53.5 C41,-53.5 46,-42 46,-29 C46,-16 41,-4.5 30,-4.5 C19,-4.5 14,-16 14,-29 C14,-42 19,-53.5 30,-53.5 Z"/><path transform="translate(2665.198 0)" d="M13,-44 C13,-50 20,-54 30,-54 C40,-54 47,-48.5 47,-40.5 C47,-30 30,-22 12,-8 L12,-4.5 L50,-4.5 L50,-13"/><path transform="translate(2725.198 0)" d="M12,-26 L48,-26"/><path transform="translate(2785.198 0)" d="M14,-53.5 L50,-53.5 M17.5,-53.5 L17.5,-29 C22,-32.5 28,-34 34,-34 C45,-34 51,-27 51,-19 C51,-9.5 44,-4.5 33,-4.5 C25,-4.5 18,-6.5 11,-11"/><path transform="translate(2845.198 0)" d="M14,-53.5 L50,-53.5 M17.5,-53.5 L17.5,-29 C22,-32.5 28,-34 34,-34 C45,-34 51,-27 51,-19 C51,-9.5 44,-4.5 33,-4.5 C25,-4.5 18,-6.5 11,-11"/><path transform="translate(2905.198 0)" d="M14,-53.5 L50,-53.5 M17.5,-53.5 L17.5,-29 C22,-32.5 28,-34 34,-34 C45,-34 51,-27 51,-19 C51,-9.5 44,-4.5 33,-4.5 C25,-4.5 18,-6.5 11,-11"/><path transform="translate(2965.198 0)" d="M30,-53.5 C39,-53.5 44,-48.5 44,-42 C44,-35 38,-30 30,-30 C22,-30 16,-35 16,-42 C16,-48.5 21,-53.5 30,-53.5 Z M30,-30 C41,-30 47,-24 47,-17 C47,-9.5 40,-4.5 30,-4.5 C20,-4.5 13,-9.5 13,-17 C13,-24 19,-30 30,-30 Z"/><path transform="translate(3025.198 0)" d="M13,-49 C17,-52.5 23,-54 30,-54 C40,-54 46,-49 46,-42.5 C46,-35 40,-30.5 30,-30.5 L23,-30.5 M30,-30.5 C42,-30.5 49,-24.5 49,-17 C49,-9 42,-4.5 30,-4.5 C22,-4.5 15,-6.5 9,-10.5"/><path transform="translate(3085.198 0)" d="M12,-26 L48,-26"/><path transform="translate(3145.198 0)" d="M13,-6 C17,-4.5 22,-4.5 26,-4.5 C40,-4.5 47,-17 47,-31 C47,-46 40,-54 29,-54 C18,-54 11,-47 11,-38 C11,-29 18,-23 28,-23 C37,-23 44,-28 47,-35"/><path transform="translate(3205.198 0)" d="M3,-53.5 L30,-53.5 C45,-53.5 53,-43 53,-29 C53,-15 45,-4.5 30,-4.5 L3,-4.5 M13,-53.5 L13,-4.5"/><path transform="translate(3265.198 0)" d="M30,-53.5 C41,-53.5 46,-42 46,-29 C46,-16 41,-4.5 30,-4.5 C19,-4.5 14,-16 14,-29 C14,-42 19,-53.5 30,-53.5 Z"/></g><g fill="#000"><rect x="1690.698" y="-58.5" width="8" height="21"/><rect x="1655.698" y="-19.4" width="8.5" height="20"/><rect x="1810.198" y="-58.5" width="8" height="21"/><rect x="2388.698" y="-39.5" width="13" height="13"/><rect x="2388.698" y="-13.5" width="13" height="13"/></g></g>
<path d="M295,540.6 L309.6,540.6 M303,537.6 L303,543.5 M337,539.4 L339.2,542 M345.2,538 L341.6,543.5 M345.2,538 L350,541.6 M347.4,541.2 L355,541.2 M357.2,538 L357.2,543.5 M357.2,538.6 L361,538.6 M364.6,538 L364.6,543.5 M362.2,540.6 L371,540.6 M368.2,538 L368.2,543.5 M374.5,539 L376.8,542" fill="none" stroke="#111" stroke-width="1.3"/>
<path d="M314.6,540.6 L333.4,540.6 M324.8,538.2 L324,543.5" fill="none" stroke="#555" stroke-width="1.3"/>
<g transform="translate(0 550) scale(0.17700 0.17700)"><g fill="none" stroke="#000" stroke-width="9.040"><path transform="translate(2125.198 0)" d="M47,-51 C43,-53.5 38,-54 34,-54 C20,-54 13,-41 13,-27 C13,-12 20,-4.5 31,-4.5 C42,-4.5 49,-11 49,-20 C49,-29 42,-35 32,-35 C23,-35 16,-30 13,-23"/><path transform="translate(2185.198 0)" d="M12,-26 L48,-26"/><path transform="translate(2245.198 0)" d="M30,-53.5 C41,-53.5 46,-42 46,-29 C46,-16 41,-4.5 30,-4.5 C19,-4.5 14,-16 14,-29 C14,-42 19,-53.5 30,-53.5 Z"/><path transform="translate(2305.198 0)" d="M13,-44 C13,-50 20,-54 30,-54 C40,-54 47,-48.5 47,-40.5 C47,-30 30,-22 12,-8 L12,-4.5 L50,-4.5 L50,-13"/><path transform="translate(2365.198 0)" d="M12,-26 L48,-26"/><path transform="translate(2425.198 0)" d="M14,-53.5 L50,-53.5 M17.5,-53.5 L17.5,-29 C22,-32.5 28,-34 34,-34 C45,-34 51,-27 51,-19 C51,-9.5 44,-4.5 33,-4.5 C25,-4.5 18,-6.5 11,-11"/><path transform="translate(2485.198 0)" d="M14,-53.5 L50,-53.5 M17.5,-53.5 L17.5,-29 C22,-32.5 28,-34 34,-34 C45,-34 51,-27 51,-19 C51,-9.5 44,-4.5 33,-4.5 C25,-4.5 18,-6.5 11,-11"/><path transform="translate(2545.198 0)" d="M14,-53.5 L50,-53.5 M17.5,-53.5 L17.5,-29 C22,-32.5 28,-34 34,-34 C45,-34 51,-27 51,-19 C51,-9.5 44,-4.5 33,-4.5 C25,-4.5 18,-6.5 11,-11"/><path transform="translate(2605.198 0)" d="M30,-53.5 C39,-53.5 44,-48.5 44,-42 C44,-35 38,-30 30,-30 C22,-30 16,-35 16,-42 C16,-48.5 21,-53.5 30,-53.5 Z M30,-30 C41,-30 47,-24 47,-17 C47,-9.5 40,-4.5 30,-4.5 C20,-4.5 13,-9.5 13,-17 C13,-24 19,-30 30,-30 Z"/><path transform="translate(2665.198 0)" d="M13,-49 C17,-52.5 23,-54 30,-54 C40,-54 46,-49 46,-42.5 C46,-35 40,-30.5 30,-30.5 L23,-30.5 M30,-30.5 C42,-30.5 49,-24.5 49,-17 C49,-9 42,-4.5 30,-4.5 C22,-4.5 15,-6.5 9,-10.5"/><path transform="translate(2725.198 0)" d="M12,-26 L48,-26"/><path transform="translate(2785.198 0)" d="M13,-6 C17,-4.5 22,-4.5 26,-4.5 C40,-4.5 47,-17 47,-31 C47,-46 40,-54 29,-54 C18,-54 11,-47 11,-38 C11,-29 18,-23 28,-23 C37,-23 44,-28 47,-35"/><path transform="translate(2845.198 0)" d="M3,-53.5 L30,-53.5 C45,-53.5 53,-43 53,-29 C53,-15 45,-4.5 30,-4.5 L3,-4.5 M13,-53.5 L13,-4.5"/><path transform="translate(2905.198 0)" d="M30,-53.5 C41,-53.5 46,-42 46,-29 C46,-16 41,-4.5 30,-4.5 C19,-4.5 14,-16 14,-29 C14,-42 19,-53.5 30,-53.5 Z"/></g></g>
<text x="518.2" y="529.9" fill="#4a4a4a" font-size="18.8" style="font-family:&quot;Liberation Sans&quot;, sans-serif" font-weight="bold" text-anchor="start" fill-opacity="0.6">Chinafix.com</text>
</svg>
</body></html>
